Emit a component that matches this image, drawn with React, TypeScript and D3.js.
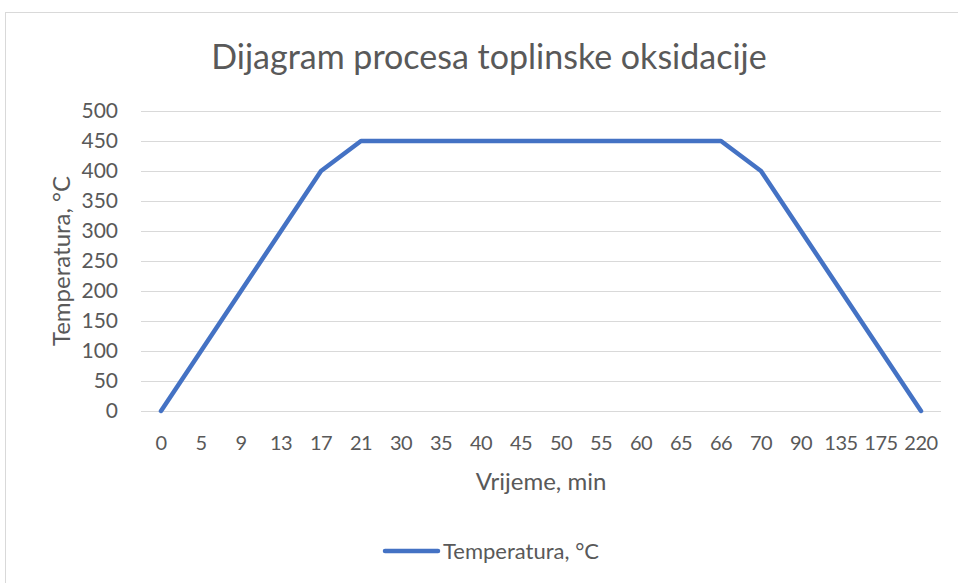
import React, { useEffect, useRef } from 'react';
import * as d3 from 'd3';

const categories = ['0', '5', '9', '13', '17', '21', '30', '35', '40', '45', '50', '55', '60', '65', '66', '70', '90', '135', '175', '220'];
const temperature = [0, 100, 200, 300, 400, 450, 450, 450, 450, 450, 450, 450, 450, 450, 450, 400, 300, 200, 100, 0];
const yTicks = [0, 50, 100, 150, 200, 250, 300, 350, 400, 450, 500];

const App: React.FC = () => {
    const chartRef = useRef<SVGSVGElement | null>(null);

    useEffect(() => {
        if (!chartRef.current) return;

        const width = 958;
        const height = 583;
        const font = 'Lato, "Open Sans", sans-serif';
        const textColor = '#595959';

        d3.select(chartRef.current).selectAll('*').remove();

        const svg = d3.select(chartRef.current)
            .attr('width', width)
            .attr('height', height);

        // chart area border
        svg.append('rect')
            .attr('x', 5.5)
            .attr('y', 12.5)
            .attr('width', 1000)
            .attr('height', 700)
            .attr('fill', '#fff')
            .attr('stroke', '#d9d9d9');

        const x = d3.scaleBand()
            .domain(categories)
            .range([141, 941]);

        const y = d3.scaleLinear()
            .domain([0, 500])
            .range([411, 111]);

        // gridlines
        svg.selectAll('line.grid')
            .data(yTicks)
            .enter()
            .append('line')
            .attr('class', 'grid')
            .attr('x1', 141)
            .attr('x2', 941)
            .attr('y1', d => Math.round(y(d)) + 0.5)
            .attr('y2', d => Math.round(y(d)) + 0.5)
            .attr('stroke', '#d9d9d9')
            .attr('stroke-width', 1);

        // y tick labels
        svg.selectAll('text.ytick')
            .data(yTicks)
            .enter()
            .append('text')
            .attr('class', 'ytick')
            .attr('x', 118)
            .attr('y', d => y(d))
            .attr('dy', '0.35em')
            .attr('text-anchor', 'end')
            .style('font-family', font)
            .style('font-size', '21px')
            .style('fill', textColor)
            .text(d => d);

        // x tick labels
        svg.selectAll('text.xtick')
            .data(categories)
            .enter()
            .append('text')
            .attr('class', 'xtick')
            .attr('x', d => x(d)! + x.bandwidth() / 2)
            .attr('y', 443)
            .attr('dy', '0.35em')
            .attr('text-anchor', 'middle')
            .style('font-family', font)
            .style('font-size', '20px')
            .style('letter-spacing', '-0.5px')
            .style('fill', textColor)
            .text(d => d);

        // line
        const line = d3.line<number>()
            .x((_, i) => x(categories[i])! + x.bandwidth() / 2)
            .y(d => y(d));

        svg.append('path')
            .datum(temperature)
            .attr('d', line)
            .attr('fill', 'none')
            .attr('stroke', '#4472C4')
            .attr('stroke-width', 4.5)
            .attr('stroke-linejoin', 'round')
            .attr('stroke-linecap', 'round');

        // title
        svg.append('text')
            .attr('x', 489)
            .attr('y', 57)
            .attr('dy', '0.35em')
            .attr('text-anchor', 'middle')
            .style('font-family', font)
            .style('font-size', '34px')
            .style('fill', textColor)
            .text('Dijagram procesa toplinske oksidacije');

        // axis titles
        svg.append('text')
            .attr('x', 541)
            .attr('y', 482)
            .attr('dy', '0.35em')
            .attr('text-anchor', 'middle')
            .style('font-family', font)
            .style('font-size', '24px')
            .style('fill', textColor)
            .text('Vrijeme, min');

        svg.append('text')
            .attr('transform', 'translate(62, 261) rotate(-90)')
            .attr('dy', '0.35em')
            .attr('text-anchor', 'middle')
            .style('font-family', font)
            .style('font-size', '24px')
            .style('fill', textColor)
            .text('Temperatura, °C');

        // legend
        svg.append('line')
            .attr('x1', 385)
            .attr('x2', 438)
            .attr('y1', 551)
            .attr('y2', 551)
            .attr('stroke', '#4472C4')
            .attr('stroke-width', 4.5)
            .attr('stroke-linecap', 'round');

        svg.append('text')
            .attr('x', 443)
            .attr('y', 551)
            .attr('dy', '0.35em')
            .style('font-family', font)
            .style('font-size', '22px')
            .style('fill', textColor)
            .text('Temperatura, °C');
    }, []);

    return <svg ref={chartRef} style={{ position: 'absolute', left: 0, top: 0 }} />;
};

export default App;
